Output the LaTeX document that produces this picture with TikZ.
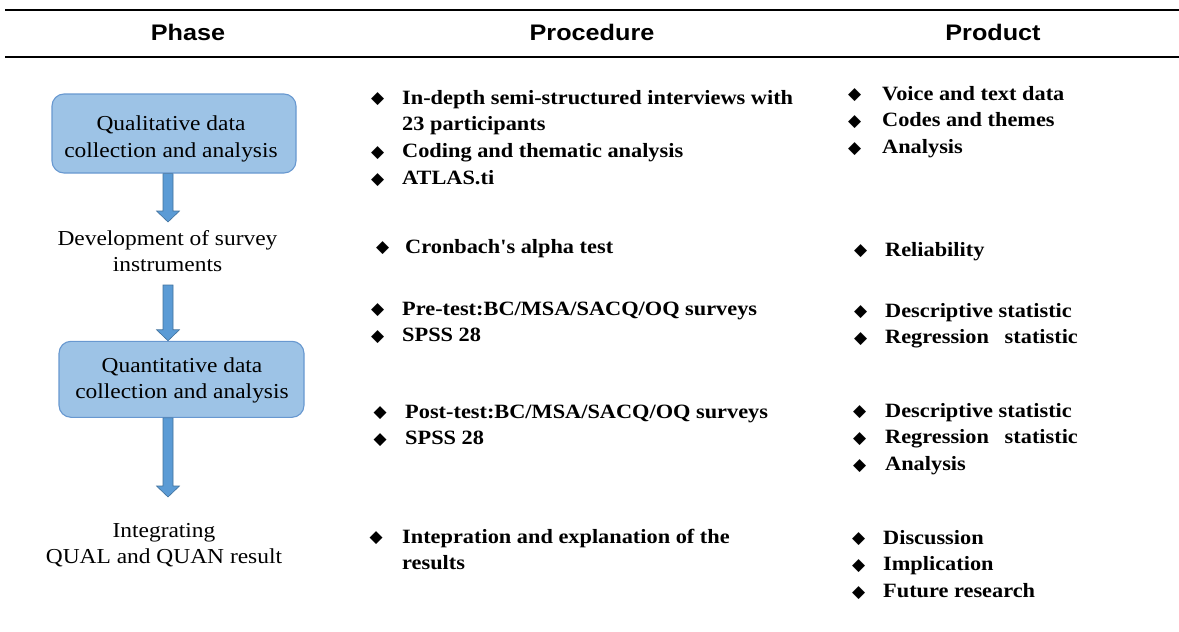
\documentclass[tikz,border=0pt]{standalone}
\usepackage{fontspec}
\usepackage{array}
\usetikzlibrary{calc}

\newfontfamily\headfont{Liberation Sans}[FakeStretch=1.12]
\newfontfamily\phasefont{Liberation Serif}[FakeStretch=1.1]
\newfontfamily\cellfont{Liberation Serif}[FakeStretch=1.1]
\newfontfamily\symfont{DejaVu Sans}

\definecolor{boxfill}{RGB}{157,195,230}
\definecolor{boxedge}{RGB}{104,152,208}
\definecolor{arrowfill}{RGB}{91,155,213}
\definecolor{arrowedge}{RGB}{65,113,156}

% bullet glyph and bullet lists
\newlength{\bw}
\newcommand{\dmd}{{\symfont\fontsize{17}{17}\selectfont\raisebox{0.3pt}{◆}}}
\newcommand{\bi}{\makebox[\bw][l]{\dmd}}
\newcommand{\blist}[2]{\setlength{\bw}{#1}\begin{tabular}[t]{@{}l@{}l@{}}#2\end{tabular}}
\newcommand{\lines}[1]{\begin{tabular}[t]{@{}c@{}}#1\end{tabular}}

\begin{document}
\begin{tikzpicture}[x=1pt,y=-1pt,
  rulestyle/.style={line width=2.4pt},
  headtxt/.style={font=\headfont\bfseries\fontsize{22.5}{22.5}\selectfont, anchor=base, inner sep=0pt},
  phasebox/.style={draw=boxedge, fill=boxfill, line width=1.1pt, rounded corners=12pt, inner sep=0pt},
  phasetxt/.style={font=\phasefont\fontsize{21.3}{26.6}\selectfont, anchor=base, inner sep=0pt},
  cell/.style={font=\cellfont\bfseries\fontsize{20.3}{26.8}\selectfont, anchor=base west, inner sep=0pt},
  blk/.style={fill=arrowfill, draw=arrowedge, line width=0.6pt}]

\useasboundingbox (0,0) rectangle (1179,632);

% table rules
\coordinate (rtl) at (5,10);
\coordinate (rtr) at (1179,10);
\coordinate (rbl) at (5,57);
\coordinate (rbr) at (1179,57);
\draw[rulestyle] (rtl) -- (rtr);
\draw[rulestyle] (rbl) -- (rbr);

% column headings
\node[headtxt] (hphase) at (188,40) {Phase};
\node[headtxt] (hproc) at (592,40) {Procedure};
\node[headtxt] (hprod) at (993,40) {Product};

% phase column
\node[phasebox, minimum width=244pt, minimum height=79pt] (qual) at (174,133.5) {};
\node[phasetxt] (qualtxt) at (171,130.5) {\lines{Qualitative data\\collection and analysis}};

\node[phasetxt] (dev) at (167.5,245) {\lines{Development of survey\\instruments}};

\node[phasebox, minimum width=245pt, minimum height=76pt] (quan) at (181.5,379.3) {};
\node[phasetxt] (quantxt) at (182,372) {\lines{Quantitative data\\collection and analysis}};

\node[phasetxt] (integ) at (164,537) {\lines{Integrating\\QUAL and QUAN result}};

% block arrows between the phases
\coordinate (a1tip) at (168,222);
\coordinate (a2start) at (168,285);
\coordinate (a3tip) at (168,497);

\filldraw[blk] let \p1=(qual.south -| a1tip), \p2=(a1tip) in
  (\x1-5pt,\y1) -- (\x1-5pt,\y2+11pt) -- (\x1-11.5pt,\y2+11pt) -- (\x2,\y2)
  -- (\x1+11.5pt,\y2+11pt) -- (\x1+5pt,\y2+11pt) -- (\x1+5pt,\y1) -- cycle;
\filldraw[blk] let \p1=(a2start), \p2=(quan.north -| a2start) in
  (\x1-5pt,\y1) -- (\x1-5pt,\y2+11pt) -- (\x1-11.5pt,\y2+11pt) -- (\x2,\y2)
  -- (\x1+11.5pt,\y2+11pt) -- (\x1+5pt,\y2+11pt) -- (\x1+5pt,\y1) -- cycle;
\filldraw[blk] let \p1=(quan.south -| a3tip), \p2=(a3tip) in
  (\x1-5pt,\y1) -- (\x1-5pt,\y2+11pt) -- (\x1-11.5pt,\y2+11pt) -- (\x2,\y2)
  -- (\x1+11.5pt,\y2+11pt) -- (\x1+5pt,\y2+11pt) -- (\x1+5pt,\y1) -- cycle;

% procedure column
\node[cell] (proc1) at (371,104) {\blist{31pt}{%
  \bi & In-depth semi-structured interviews with\\
      & 23 participants\\
  \bi & Coding and thematic analysis\\
  \bi & ATLAS.ti}};
\node[cell] (proc2) at (376,253) {\blist{29pt}{%
  \bi & Cronbach's alpha test}};
\node[cell] (proc3) at (371,315) {\blist{31pt}{%
  \bi & Pre-test:BC/MSA/SACQ/OQ surveys\\
  \bi & SPSS 28}};
\node[cell] (proc4) at (373.5,418) {\blist{31.5pt}{%
  \bi & Post-test:BC/MSA/SACQ/OQ surveys\\
  \bi & SPSS 28}};
\node[cell] (proc5) at (369.5,543) {\blist{32.5pt}{%
  \bi & Intepration and explanation of the\\
      & results}};

% product column
\node[cell] (prod1) at (848,100) {\blist{34pt}{%
  \bi & Voice and text data\\
  \bi & Codes and themes\\
  \bi & Analysis}};
\node[cell] (prod2) at (854,256) {\blist{31pt}{%
  \bi & Reliability}};
\node[cell] (prod3) at (854,317) {\blist{31pt}{%
  \bi & Descriptive statistic\\
  \bi & Regression\hspace{0.5em} statistic}};
\node[cell] (prod4) at (853,417) {\blist{32pt}{%
  \bi & Descriptive statistic\\
  \bi & Regression\hspace{0.5em} statistic\\
  \bi & Analysis}};
\node[cell] (prod5) at (852,544) {\blist{31pt}{%
  \bi & Discussion\\
  \bi & Implication\\
  \bi & Future research}};
\end{tikzpicture}
\end{document}
